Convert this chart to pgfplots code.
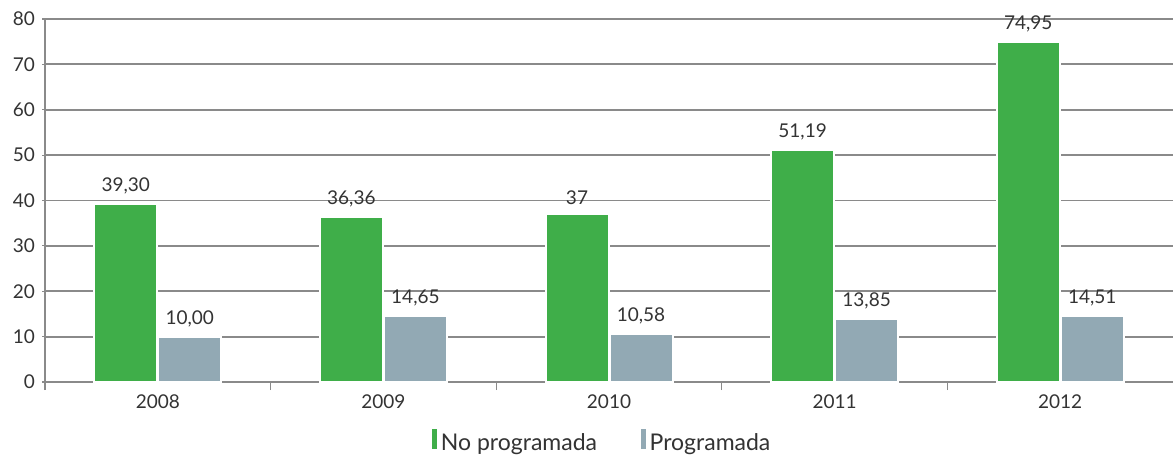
\documentclass[border=0pt]{standalone}
\usepackage{pgfplots}
\usepackage{pgfplotstable}
\pgfplotsset{compat=1.18}
\usepackage{fontspec}
\setmainfont{Lato}

\definecolor{verde}{HTML}{3FAE49}
\definecolor{gris}{HTML}{92A9B4}
\definecolor{texto}{HTML}{333333}
\definecolor{rejilla}{HTML}{8A8A8A}

\pgfplotstableread{
x y lab
0 39.30 39,30
1 36.36 36,36
2 37.00 37
3 51.19 51,19
4 74.95 74,95
}\noprog
\pgfplotstableread{
x y lab
0 10.00 10,00
1 14.65 14,65
2 10.58 10,58
3 13.85 13,85
4 14.51 14,51
}\prog

\begin{document}
\begin{tikzpicture}
\begin{axis}[
    name=ax,
    scale only axis,
    width=564pt, height=181.5pt,
    xmin=-0.5, xmax=4.5,
    ymin=0, ymax=80,
    ytick={0,10,...,80},
    xtick={0,1,2,3,4},
    xticklabels={2008,2009,2010,2011,2012},
    minor xtick={-0.5,0.5,1.5,2.5,3.5},
    major x tick style={draw=none},
    minor tick length=4pt,
    major tick length=3pt,
    tick align=outside,
    axis lines=left,
    axis line style={-, draw=rejilla, line width=0.8pt},
    tick style={draw=rejilla, line width=0.6pt},
    ymajorgrids,
    grid style={draw=rejilla, line width=0.9pt},
    ybar,
    bar width=31.5pt,
    font=\fontsize{9.5}{11}\selectfont,
    ticklabel style={text=texto},
    /pgf/number format/assume math mode=true,
    point meta=explicit symbolic,
    nodes near coords,
    nodes near coords style={text=texto, font=\fontsize{9.5}{11}\selectfont, yshift=1pt},
    legend style={at={(0.495,0)}, anchor=center, yshift=-30.5pt, draw=none,
        legend columns=2, font=\fontsize{11.5}{13}\selectfont, text=texto,
        /tikz/every even column/.append style={column sep=20pt}},
    legend image code/.code={\fill[#1, draw=none] (0pt,-0.3em) rectangle (2.3pt,0.72em);},
    clip=false,
]
\addplot[fill=verde, draw=white, line width=1pt, bar shift=-16pt]
    table[x=x, y=y, meta=lab] {\noprog};
\addlegendentry{No programada}
\addplot[fill=gris, draw=white, line width=1pt, bar shift=16pt]
    table[x=x, y=y, meta=lab] {\prog};
\addlegendentry{Programada}
\end{axis}
\pgfresetboundingbox
\path[use as bounding box] ([xshift=-22.5pt, yshift=-38.5pt]ax.south west)
    rectangle ([yshift=9.5pt]ax.north east);
\end{tikzpicture}
\end{document}
